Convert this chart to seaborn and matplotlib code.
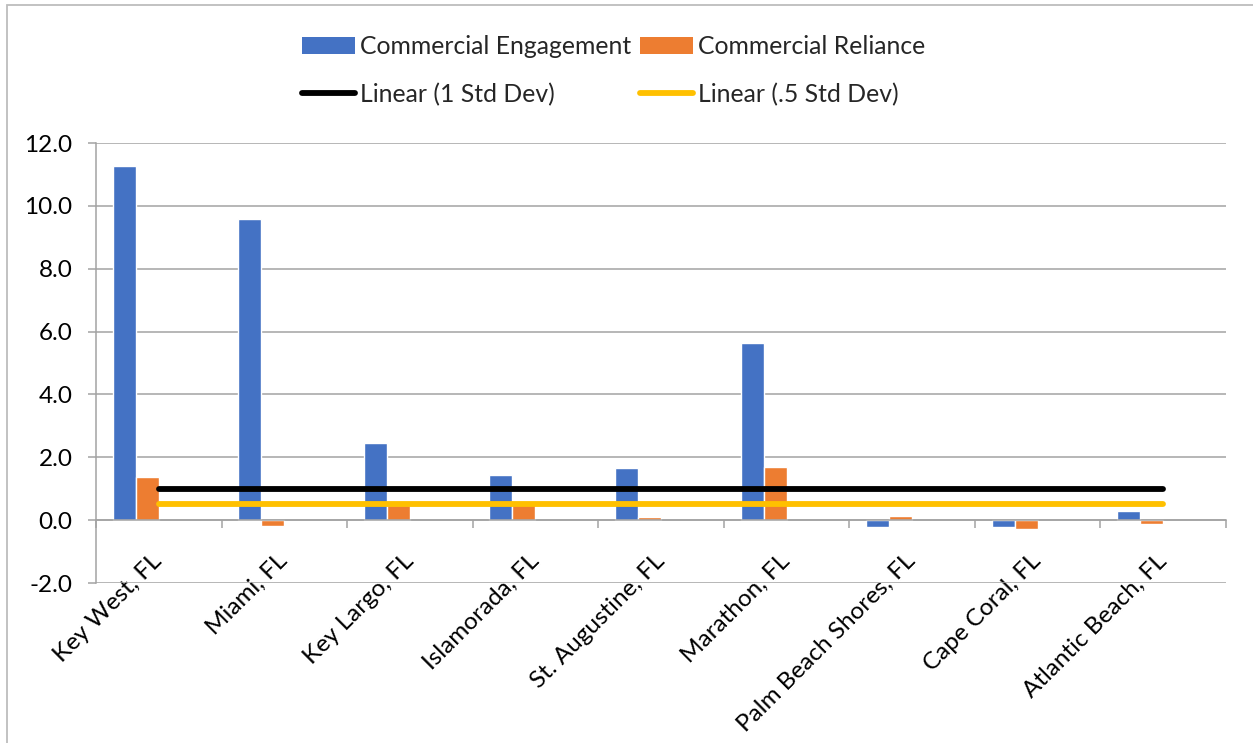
import numpy as np
import pandas as pd
import seaborn as sns
import matplotlib
matplotlib.use("Agg")
import matplotlib.pyplot as plt
from matplotlib.patches import Patch, Rectangle
from matplotlib.lines import Line2D
from matplotlib.ticker import FixedLocator, FormatStrFormatter

# --- data -------------------------------------------------------------
cities = ["Key West, FL", "Miami, FL", "Key Largo, FL", "Islamorada, FL",
          "St. Augustine, FL", "Marathon, FL", "Palm Beach Shores, FL",
          "Cape Coral, FL", "Atlantic Beach, FL"]
engagement = [11.27, 9.57, 2.46, 1.43, 1.65, 5.64, -0.21, -0.21, 0.28]
reliance = [1.36, -0.19, 0.47, 0.60, 0.10, 1.69, 0.13, -0.27, -0.12]
std_one = [1.0, 1.0, 1.0, 1.0, 1.0, 1.0, 1.0, 1.0, 1.0]
std_half = [0.5, 0.5, 0.5, 0.5, 0.5, 0.5, 0.5, 0.5, 0.5]
series_names = ["Commercial Engagement", "Commercial Reliance",
                "1 Std Dev", ".5 Std Dev"]
y_ticks = [-2.0, 0.0, 2.0, 4.0, 6.0, 8.0, 10.0, 12.0]

BLUE, ORANGE, YELLOW, BLACK = "#4472C4", "#ED7D31", "#FFC000", "#000000"
GRID = "#A3A3A3"
FS = 17.5
LEG_FS = 17.8

df = pd.DataFrame({
    "city": cities * 4,
    "series": np.repeat(series_names, len(cities)),
    "value": engagement + reliance + std_one + std_half,
})

sns.set_style("white")
plt.rcParams["font.family"] = ["Lato", "DejaVu Sans"]

fig = plt.figure(figsize=(12.53, 7.43), dpi=100)
ax = fig.add_axes([96 / 1253, 1 - 583 / 743, 1130 / 1253, 440 / 743])

sns.barplot(data=df, x="city", y="value", hue="series", hue_order=series_names,
            order=cities, palette=[BLUE, ORANGE, "white", "white"],
            width=0.733, errorbar=None, saturation=1, legend=False, ax=ax)

# the std-dev series only carry the trendlines; their bars stay hidden
for cont in ax.containers[2:]:
    for bar in cont:
        bar.set_visible(False)

xpos = np.arange(len(cities))
ax.plot(xpos, std_one, color=BLACK, lw=4.2, solid_capstyle="round", zorder=5)
ax.plot(xpos, std_half, color=YELLOW, lw=4.2, solid_capstyle="round", zorder=5)

# axes
ax.set_xlim(-0.5, len(cities) - 0.5)
ax.set_ylim(-2, 12)
ax.yaxis.set_major_locator(FixedLocator(y_ticks))
ax.yaxis.set_major_formatter(FormatStrFormatter("%.1f"))
ax.grid(axis="y", color=GRID, lw=1.1)
ax.grid(axis="x", visible=False)
ax.set_axisbelow(True)
ax.set_xlabel("")
ax.set_ylabel("")

for side in ["top", "right"]:
    ax.spines[side].set_visible(False)
ax.spines["left"].set_color(GRID)
ax.spines["left"].set_linewidth(1.1)
ax.spines["bottom"].set_position(("data", 0))
ax.spines["bottom"].set_color(GRID)
ax.spines["bottom"].set_linewidth(1.1)

ax.tick_params(axis="y", which="major", left=True, length=6, width=1.1,
               color=GRID, pad=11, labelsize=FS, labelcolor="black")
ax.xaxis.set_minor_locator(FixedLocator(np.arange(len(cities) + 1) - 0.5))
ax.tick_params(axis="x", which="minor", bottom=True, length=6, width=1.1,
               color=GRID, direction="out")
ax.tick_params(axis="x", which="major", length=0, pad=27, labelsize=FS,
               labelcolor="black")
for lab in ax.get_xticklabels():
    lab.set_rotation(45)
    lab.set_rotation_mode("anchor")
    lab.set_ha("right")
    lab.set_va("center")

# legend
handles = [
    Patch(facecolor=BLUE, edgecolor="none"),
    Line2D([], [], color=BLACK, lw=4.2, solid_capstyle="round"),
    Patch(facecolor=ORANGE, edgecolor="none"),
    Line2D([], [], color=YELLOW, lw=4.2, solid_capstyle="round"),
]
labels = ["Commercial Engagement", "Linear (1 Std Dev)",
          "Commercial Reliance", "Linear (.5 Std Dev)"]
fig.legend(handles, labels, ncol=2, loc="upper left",
           bbox_to_anchor=(302 / 1253, 1 - 35 / 743), frameon=False,
           fontsize=LEG_FS, handlelength=2.15, handleheight=0.68,
           handletextpad=0.2, columnspacing=0.35, labelspacing=1.0,
           borderpad=0, borderaxespad=0)

# chart-area border (top and left edges visible)
fig.patches.append(Rectangle((7 / 1253, -0.2), 1.2, 1.2 - 5 / 743,
                             transform=fig.transFigure, fill=False,
                             edgecolor="#BDBDBD", lw=1.3, zorder=-1))

fig.savefig("out.png", dpi=100, facecolor="white")
